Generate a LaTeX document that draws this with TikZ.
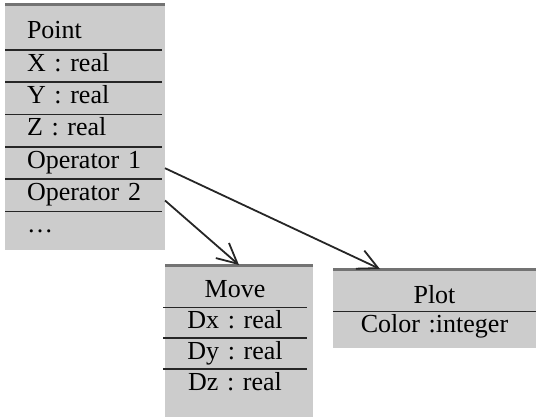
\documentclass[tikz,border=0pt]{standalone}
\usepackage{fontspec}
\setmainfont{Liberation Serif}
\usetikzlibrary{positioning,arrows.meta,calc}
\definecolor{boxgray}{gray}{0.8}
\definecolor{edgegray}{gray}{0.45}
\newcommand{\PointGap}{3.75pt}
\newcommand{\MoveGap}{3pt}
\frenchspacing

\tikzset{
  classbox/.style={fill=boxgray, draw=none, inner sep=0pt, outer sep=0pt, anchor=north west},
  classrow/.style={inner sep=0pt, text height=9pt, text depth=3pt, font=\fontsize{13}{15}\selectfont},
  pointrow/.style={classrow, text width=65pt, align=left},
  moverow/.style={classrow, text width=70pt, align=center},
  plotrow/.style={classrow, text width=100pt, align=center},
  topedge/.style={draw=edgegray, line width=1.5pt},
  sepline/.style={draw=black!85, line width=0.75pt},
  link/.style={draw=black!85, line width=0.9pt, -{Straight Barb[length=10pt,width=10pt]}},
}

\begin{document}
\begin{tikzpicture}[x=0.5pt, y=-0.5pt]
  \useasboundingbox (0,0) rectangle (536,417);

  % class boxes
  \node[classbox, minimum width=80pt, minimum height=122.5pt] (pointbox) at (5,5) {};
  \node[classbox, minimum width=74pt, minimum height=76pt] (movebox) at (165,265) {};
  \node[classbox, minimum width=101.5pt, minimum height=39.5pt] (plotbox) at (333,269) {};
  \foreach \b in {pointbox,movebox,plotbox}
    \draw[topedge] (\b.north west) -- (\b.north east);

  % Point
  \node[pointrow] (pname) at (92,33) {Point};
  \node[pointrow, below=\PointGap of pname] (px) {X : real};
  \node[pointrow, below=\PointGap of px] (py) {Y : real};
  \node[pointrow, below=\PointGap of py] (pz) {Z : real};
  \node[pointrow, below=\PointGap of pz] (pop1) {Operator 1};
  \node[pointrow, below=\PointGap of pop1] (pop2) {Operator 2};
  \node[pointrow, below=\PointGap of pop2] (pdots) {\dots};
  \foreach \r in {px,py,pz,pop1,pop2,pdots}
    \draw[sepline] ($(pointbox.west |- \r.north)+(0,1.5pt)$) -- ($(pointbox.east |- \r.north)+(-1.5pt,1.5pt)$);

  % Move
  \node[moverow] (mname) at (235,292) {Move};
  \node[moverow, below=\MoveGap of mname] (mdx) {Dx : real};
  \node[moverow, below=\MoveGap of mdx] (mdy) {Dy : real};
  \node[moverow, below=\MoveGap of mdy] (mdz) {Dz : real};
  \foreach \r in {mdx,mdy,mdz}
    \draw[sepline] ($(movebox.west |- \r.north)+(-1pt,1.5pt)$) -- ($(movebox.east |- \r.north)+(-3pt,1.5pt)$);

  % Plot
  \node[plotrow] (plname) at (434.5,297) {Plot};
  \node[plotrow, below=2.5pt of plname] (plcolor) {Color :integer};
  \draw[sepline] ($(plotbox.west |- plcolor.north)+(0,1.5pt)$) -- ($(plotbox.east |- plcolor.north)+(0,1.5pt)$);

  % operator links
  \coordinate (op1out) at (pointbox.east |- pop1.base);
  \coordinate (op2out) at (pointbox.east |- pop2.base);
  \coordinate (plotin) at ([xshift=23.5pt]plotbox.north west);
  \draw[link] (op1out) -- (plotin);
  \draw[link] (op2out) -- (movebox.north);
\end{tikzpicture}
\end{document}
